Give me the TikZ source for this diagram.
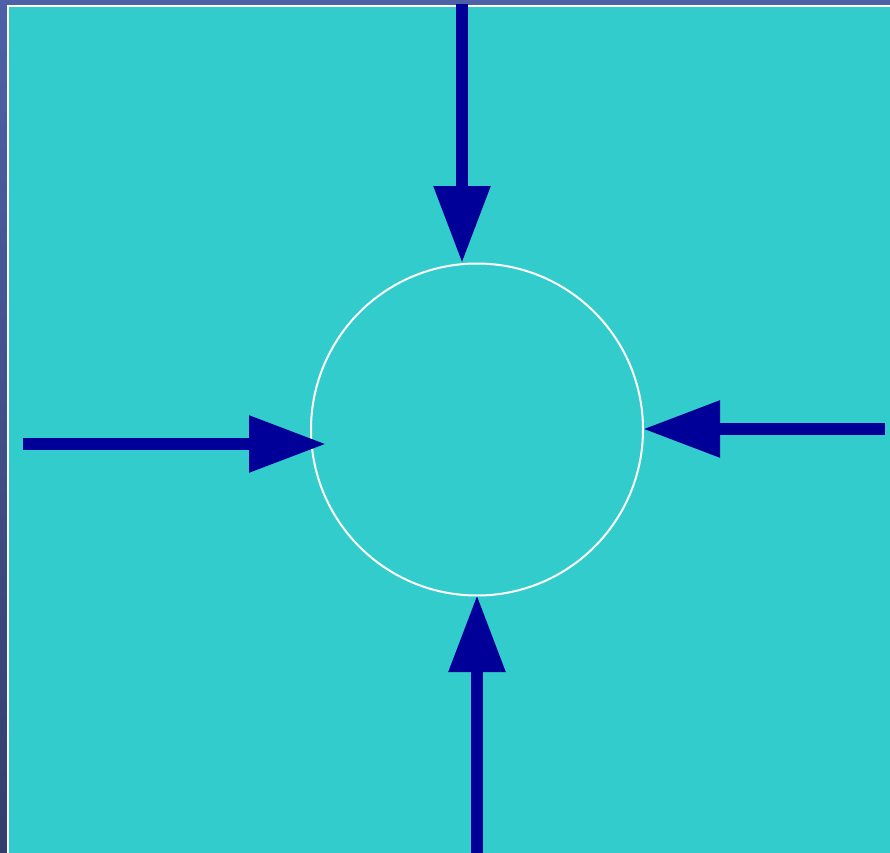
\documentclass[tikz,border=0pt]{standalone}
\usepackage{tikz}
\usepackage{xcolor}
\usetikzlibrary{arrows.meta}
\definecolor{bgblue}{RGB}{78,96,166}
\definecolor{bgdark}{RGB}{52,62,108}
\definecolor{fieldteal}{RGB}{51,204,204}
\definecolor{pushblue}{RGB}{0,0,153}
\tikzset{
  push/.style={-{Triangle[length=57.75pt, width=40.5pt]}, line width=9pt, pushblue},
  ring/.style={circle, draw=white, line width=1.5pt, minimum size=249pt, inner sep=0pt}
}

\begin{document}
\begin{tikzpicture}[x=0.75pt, y=-0.75pt]
        \useasboundingbox (0,0) rectangle (890,853);
        \shade[top color=bgblue, bottom color=bgdark] (0,0) rectangle (890,853);
        \fill[fieldteal] (8,6) rectangle (892,855);
        \draw[white, line width=1.5pt] (8,6) rectangle (892,855);
        \node[ring] (drop) at (477,429.5) {};
        % outer ends and tips of the four pushes
        \coordinate (topout) at (462,4);   \coordinate (topin) at (462,263);
        \coordinate (leftout) at (23,444); \coordinate (leftin) at (326,444);
        \coordinate (rightout) at (885,429); \coordinate (rightin) at (643,429);
        \coordinate (botout) at (477,855); \coordinate (botin) at (477,595);
        \foreach \a/\b in {topout/topin,leftout/leftin,rightout/rightin,botout/botin}{\draw[push] (\a) -- (\b);}
      \end{tikzpicture}
\end{document}
